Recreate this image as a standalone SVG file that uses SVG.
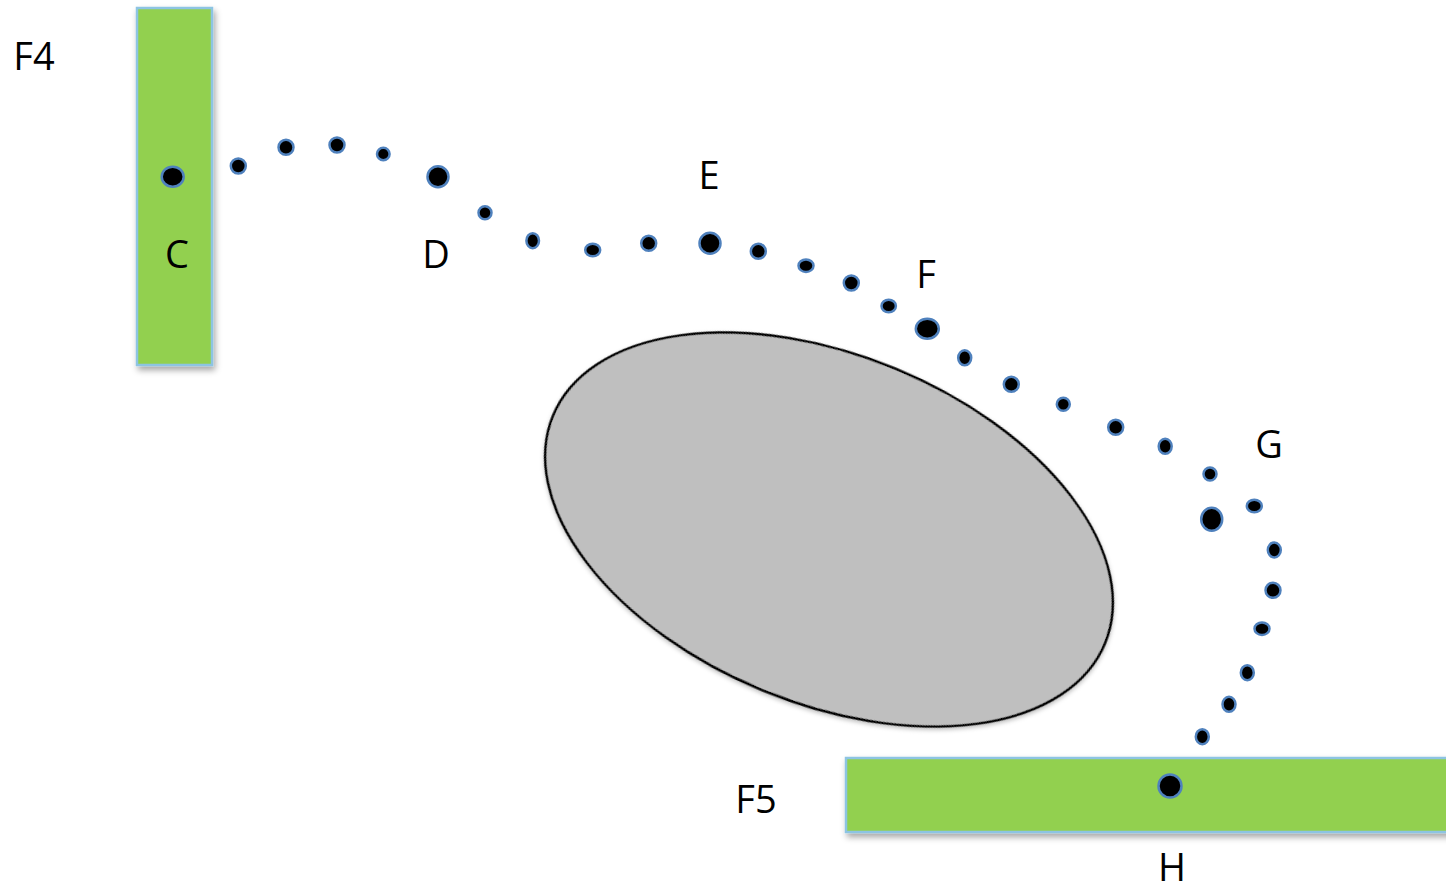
<svg xmlns="http://www.w3.org/2000/svg" width="1446" height="886" viewBox="0 0 1446 886">
<style>
.bar{fill:#92D050;stroke:#8DC4E2;stroke-width:2.5}
.dot{fill:#000;stroke:#4F81BD;stroke-width:2.5}
.lbl{font-family:"Open Sans","Liberation Sans",sans-serif;font-size:38px;fill:#000;text-anchor:middle}
.blob{fill:#BFBFBF;stroke:#000;stroke-width:2.5}
</style>
<defs>
<filter id="sh" x="-20%" y="-20%" width="140%" height="140%">
<feDropShadow dx="2" dy="4" stdDeviation="3" flood-color="#000" flood-opacity="0.35"/>
</filter>
<filter id="sh2" x="-10%" y="-10%" width="120%" height="120%">
<feDropShadow dx="1" dy="2" stdDeviation="2" flood-color="#000" flood-opacity="0.25"/>
</filter>
</defs>
<g id="bar-f4"><rect class="bar" x="137" y="8" width="75" height="357" filter="url(#sh)"/></g>
<g id="bar-f5"><rect class="bar" x="846" y="758" width="620" height="74" filter="url(#sh)"/></g>
<g id="obstacle"><ellipse class="blob" cx="829" cy="529.5" rx="298.5" ry="174" transform="rotate(22.4 829 529.5)" filter="url(#sh2)"/></g>
<g id="path-dots">
<ellipse class="dot" cx="238.3" cy="166" rx="7.5" ry="7.5"/>
<ellipse class="dot" cx="286" cy="147.3" rx="7.5" ry="7.5"/>
<ellipse class="dot" cx="337" cy="145" rx="7.5" ry="7.5"/>
<ellipse class="dot" cx="383.3" cy="154" rx="6.3" ry="6.3"/>
<ellipse class="dot" cx="485" cy="212.7" rx="6.5" ry="6.5"/>
<ellipse class="dot" cx="532.7" cy="240.7" rx="6.3" ry="7.5"/>
<ellipse class="dot" cx="592.7" cy="250" rx="7.5" ry="6.3"/>
<ellipse class="dot" cx="648.7" cy="243.3" rx="7.5" ry="7.5"/>
<ellipse class="dot" cx="758.3" cy="251.3" rx="7.5" ry="7.5"/>
<ellipse class="dot" cx="806" cy="265.7" rx="7.5" ry="6.3"/>
<ellipse class="dot" cx="851.3" cy="283" rx="7.5" ry="7.5"/>
<ellipse class="dot" cx="888.7" cy="306" rx="7.2" ry="6.3"/>
<ellipse class="dot" cx="964.7" cy="357.8" rx="6.5" ry="7.5"/>
<ellipse class="dot" cx="1011.3" cy="384.3" rx="7.5" ry="7.5"/>
<ellipse class="dot" cx="1063.3" cy="404.3" rx="6.5" ry="6.5"/>
<ellipse class="dot" cx="1115.7" cy="427.3" rx="7.5" ry="7.5"/>
<ellipse class="dot" cx="1165.2" cy="446.3" rx="6.5" ry="7.5"/>
<ellipse class="dot" cx="1210" cy="474" rx="6.5" ry="6.5"/>
<ellipse class="dot" cx="1254.3" cy="506" rx="7.5" ry="6.3"/>
<ellipse class="dot" cx="1274.3" cy="550" rx="6.5" ry="7.5"/>
<ellipse class="dot" cx="1273" cy="590.3" rx="7.5" ry="7.5"/>
<ellipse class="dot" cx="1262" cy="628.7" rx="7.5" ry="6.3"/>
<ellipse class="dot" cx="1247.3" cy="672.7" rx="6.5" ry="7.5"/>
<ellipse class="dot" cx="1229" cy="704.3" rx="6.5" ry="7.5"/>
<ellipse class="dot" cx="1202.3" cy="736.7" rx="6.5" ry="7.5"/>
</g>
<g id="node-c"><ellipse class="dot" cx="172.7" cy="176.7" rx="11" ry="10"/><text class="lbl" x="177" y="268">C</text></g>
<g id="node-d"><ellipse class="dot" cx="438" cy="176.7" rx="10.5" ry="10.5"/><text class="lbl" x="436" y="268">D</text></g>
<g id="node-e"><ellipse class="dot" cx="710" cy="243.3" rx="10.5" ry="10.5"/><text class="lbl" x="709" y="189">E</text></g>
<g id="node-f"><ellipse class="dot" cx="927.3" cy="328.7" rx="11.5" ry="10"/><text class="lbl" x="926" y="288">F</text></g>
<g id="node-g"><ellipse class="dot" cx="1211.7" cy="519.3" rx="10.5" ry="11.5"/><text class="lbl" x="1269" y="458">G</text></g>
<g id="node-h"><ellipse class="dot" cx="1170" cy="786" rx="11.5" ry="11.5"/><text class="lbl" x="1172" y="881">H</text></g>
<g id="label-f4"><text class="lbl" x="34" y="70">F4</text></g>
<g id="label-f5"><text class="lbl" x="756" y="813">F5</text></g>
</svg>
